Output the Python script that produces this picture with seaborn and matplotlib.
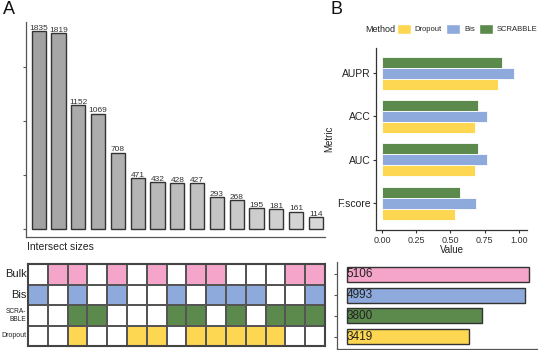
import numpy as np
import pandas as pd
import seaborn as sns
import matplotlib.pyplot as plt
from matplotlib.colors import ListedColormap
from matplotlib.patches import Patch

# data
intersect_sizes = [1835, 1819, 1152, 1069, 708, 471, 432, 428, 427, 293, 268, 195, 181, 161, 114]
sets = ["Bulk", "Bis", "SCRA-\nBBLE", "Dropout"]
bulk_in = [0, 1, 1, 0, 1, 0, 1, 0, 1, 1, 0, 0, 0, 1, 1]
bis_in = [1, 0, 1, 0, 1, 0, 0, 1, 0, 1, 1, 1, 0, 0, 1]
scrabble_in = [0, 0, 1, 1, 0, 0, 0, 1, 1, 0, 1, 0, 1, 1, 1]
dropout_in = [0, 0, 1, 0, 0, 1, 1, 0, 1, 1, 1, 1, 1, 0, 0]
set_sizes = [5106, 4993, 3800, 3419]

metrics = ["AUPR", "ACC", "AUC", "F.score"]
dropout_vals = [0.85, 0.68, 0.68, 0.53]
bis_vals = [0.965, 0.765, 0.765, 0.69]
scrabble_vals = [0.88, 0.70, 0.70, 0.57]

pink, blue, green, yellow = "#f4a5c9", "#8eaadc", "#5b8a4c", "#fdd751"
set_colors = [pink, blue, green, yellow]

sns.set_theme(style="white")
plt.rcParams["font.family"] = ["Liberation Sans", "DejaVu Sans"]

W, H = 554, 350
fig = plt.figure(figsize=(W / 100, H / 100), dpi=100)


def px_axes(left, top, width, height):
    return fig.add_axes([left / W, 1 - (top + height) / H, width / W, height / H])


# ---- A: intersection size bars
ax1 = px_axes(26, 22, 299, 215)
df_int = pd.DataFrame({"col": [str(i) for i in range(len(intersect_sizes))], "size": intersect_sizes})
greys = sns.blend_palette(["#a2a2a2", "#d8d8d8"], len(intersect_sizes))
sns.barplot(data=df_int, x="col", y="size", hue="col", palette=greys, legend=False, saturation=1,
            width=0.71, edgecolor="#333333", linewidth=1.0, ax=ax1)
for i, v in enumerate(intersect_sizes):
    ax1.text(i, v - 8, str(v), ha="center", va="bottom", fontsize=6, color="#333333")
ax1.set_xlim(-0.64, 14.46)
ax1.set_ylim(-74, 1918)
ax1.set_yticks([0, 500, 1000, 1500])
ax1.set_yticklabels([])
ax1.set_xticks([])
ax1.set_xlabel("")
ax1.set_ylabel("")
for s in ["top", "right"]:
    ax1.spines[s].set_visible(False)
for s in ["left", "bottom"]:
    ax1.spines[s].set_color("#555555")
    ax1.spines[s].set_linewidth(0.9)
ax1.tick_params(axis="y", left=True, length=2.5, width=0.8, color="#555555")
fig.text(27 / W, 1 - 247 / H, "Intersect sizes", fontsize=7.5, ha="left", va="center", color="#222222")

# ---- A: membership matrix
ax2 = px_axes(28, 264, 297, 82)
member = np.array([bulk_in, bis_in, scrabble_in, dropout_in])
codes = member * np.arange(1, 5)[:, None]
sns.heatmap(codes, cmap=ListedColormap(["white"] + set_colors), vmin=-0.5, vmax=4.5, cbar=False,
            linewidths=1.2, linecolor="#555555", ax=ax2, xticklabels=False, yticklabels=sets)
ax2.tick_params(axis="y", length=0, pad=1)
for lab, fs in zip(ax2.get_yticklabels(), [8, 8, 4.8, 5]):
    lab.set_fontsize(fs)
    lab.set_rotation(0)
    lab.set_color("#222222")
for s in ax2.spines.values():
    s.set_visible(True)
    s.set_color("#444444")
    s.set_linewidth(1.5)

# ---- B: set size bars
ax3 = px_axes(337, 262, 200, 87)
df_set = pd.DataFrame({"set": sets, "size": set_sizes})
sns.barplot(data=df_set, y="set", x="size", hue="set", palette=set_colors, legend=False, saturation=1,
            width=0.73, edgecolor="#333333", linewidth=1.0, ax=ax3)
for i, v in enumerate(set_sizes):
    ax3.text(0, i, str(v), ha="left", va="center", fontsize=8.5, color="#222222")
ax3.set_xlim(-280, 5330)
ax3.set_ylim(3.6, -0.6)
ax3.set_xticks([])
ax3.set_yticklabels([])
ax3.set_xlabel("")
ax3.set_ylabel("")
for s in ["top", "right"]:
    ax3.spines[s].set_visible(False)
for s in ["left", "bottom"]:
    ax3.spines[s].set_color("#555555")
    ax3.spines[s].set_linewidth(0.9)
ax3.tick_params(axis="y", left=True, length=2.5, width=0.8, color="#555555")

# ---- B: metric comparison
ax4 = px_axes(376, 48, 151, 182)
df_m = pd.DataFrame({
    "Metric": metrics * 3,
    "Value": dropout_vals + bis_vals + scrabble_vals,
    "Method": ["Dropout"] * 4 + ["Bis"] * 4 + ["SCRABBLE"] * 4,
})
sns.barplot(data=df_m, y="Metric", x="Value", hue="Method", order=metrics,
            hue_order=["SCRABBLE", "Bis", "Dropout"],
            palette={"SCRABBLE": green, "Bis": blue, "Dropout": yellow}, saturation=1,
            width=0.76, edgecolor="white", linewidth=0.6, legend=False, ax=ax4)
ax4.set_xlim(-0.044, 1.06)
ax4.set_ylim(3.62, -0.58)
ax4.set_xticks([0, 0.25, 0.5, 0.75, 1.0])
ax4.set_xticklabels(["0.00", "0.25", "0.50", "0.75", "1.00"], fontsize=6.5, color="#333333")
ax4.set_yticks(range(len(metrics)))
ax4.set_yticklabels(metrics, fontsize=7.5, color="#222222")
ax4.set_xlabel("Value", fontsize=7, labelpad=0, color="#222222")
ax4.set_ylabel("Metric", fontsize=7, labelpad=2, color="#222222")
for s in ["top", "right"]:
    ax4.spines[s].set_visible(False)
for s in ["left", "bottom"]:
    ax4.spines[s].set_color("#333333")
    ax4.spines[s].set_linewidth(0.9)
ax4.tick_params(axis="both", length=2.5, width=0.8, color="#333333", pad=1.5, bottom=True, left=True)

fig.text(365 / W, 1 - 29 / H, "Method", fontsize=6.5, ha="left", va="center", color="#222222")
handles = [Patch(facecolor=c, edgecolor="white") for c in [yellow, blue, green]]
fig.legend(handles, ["Dropout", "Bis", "SCRABBLE"], ncol=3, frameon=False, fontsize=5.5,
           loc="center left", bbox_to_anchor=(397 / W, 1 - 29 / H), handlelength=1.8,
           handleheight=1.8, handletextpad=0.5, columnspacing=0.6, borderaxespad=0,
           borderpad=0)

fig.text(3 / W, 1 - 10 / H, "A", fontsize=13, ha="left", va="center", color="#111111")
fig.text(330 / W, 1 - 10 / H, "B", fontsize=13, ha="left", va="center", color="#111111")

fig.savefig("out.png", dpi=100)
